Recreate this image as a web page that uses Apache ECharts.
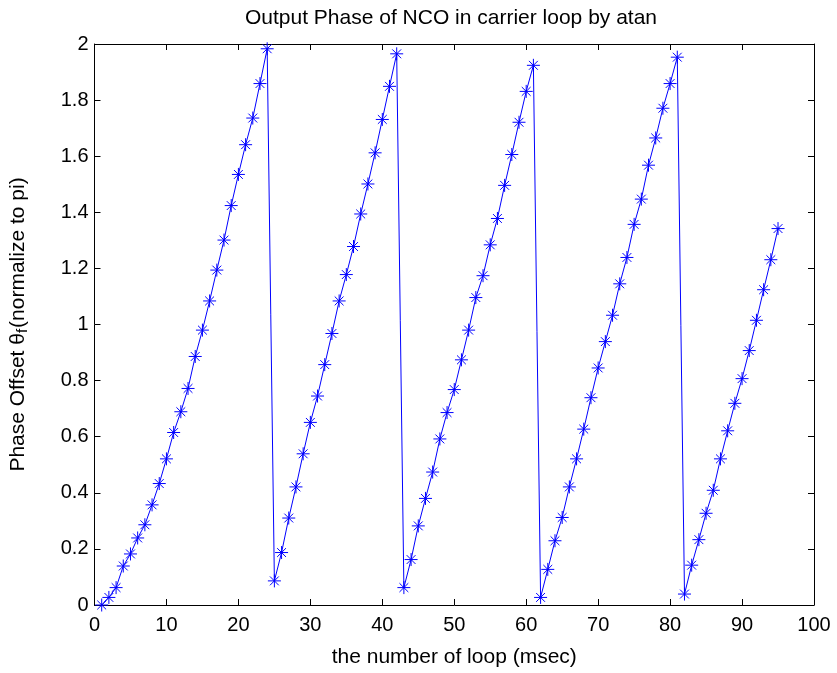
<!DOCTYPE html>
<html>
<head>
<meta charset="utf-8">
<script src="https://cdn.jsdelivr.net/npm/echarts@6/dist/echarts.min.js"></script>
<style>html,body{margin:0;padding:0;background:#fff}#c{width:837px;height:673px}</style>
</head>
<body>
<div id="c"></div>
<script>
const titleText = 'Output Phase of NCO in carrier loop by atan';
const xName = 'the number of loop (msec)';
const loopIndex = [1,2,3,4,5,6,7,8,9,10,11,12,13,14,15,16,17,18,19,20,21,22,23,24,25,26,27,28,29,30,31,32,33,34,35,36,37,38,39,40,41,42,43,44,45,46,47,48,49,50,51,52,53,54,55,56,57,58,59,60,61,62,63,64,65,66,67,68,69,70,71,72,73,74,75,76,77,78,79,80,81,82,83,84,85,86,87,88,89,90,91,92,93,94,95];
const phaseOffset = [
  0.000,0.027,0.062,0.139,0.182,0.239,0.286,0.357,0.433,0.521,
  0.615,0.689,0.772,0.886,0.980,1.084,1.194,1.301,1.424,1.535,
  1.641,1.736,1.859,1.983,
  0.086,0.187,0.310,0.421,0.539,0.651,0.745,0.857,0.968,1.084,
  1.178,1.278,1.394,1.501,1.612,1.731,1.849,1.965,
  0.062,0.162,0.282,0.380,0.474,0.592,0.686,0.768,0.874,0.980,
  1.096,1.174,1.284,1.378,1.496,1.606,1.721,1.831,1.924,
  0.027,0.127,0.229,0.312,0.421,0.521,0.627,0.739,0.845,0.939,
  1.033,1.145,1.239,1.357,1.447,1.568,1.665,1.771,1.859,1.953,
  0.039,0.142,0.233,0.327,0.409,0.521,0.621,0.719,0.807,0.907,
  1.015,1.124,1.231,1.342
];
const xTicks = [0,10,20,30,40,50,60,70,80,90,100];
const yTicks = [0,0.2,0.4,0.6,0.8,1,1.2,1.4,1.6,1.8,2];

const FONT = 'Liberation Sans';
const FS = 20;
const data = loopIndex.map((x, i) => [x, phaseOffset[i]]);
const chart = echarts.init(document.getElementById('c'), null, {renderer: 'canvas'});
const axisCommon = {
  axisLine: {show: true, onZero: false, lineStyle: {color: '#000', width: 1}},
  axisTick: {show: true, inside: true, length: 6, lineStyle: {color: '#000'}},
  splitLine: {show: false}
};
chart.setOption({
  animation: false,
  backgroundColor: '#fff',
  title: {
    text: titleText, left: 446, top: 3, textAlign: 'center',
    textStyle: {fontFamily: FONT, fontSize: 21, fontWeight: 'normal', color: '#000'}
  },
  grid: {left: 93, right: 23, top: 44, bottom: 62, containLabel: false},
  xAxis: [
    Object.assign({
      type: 'value', min: xTicks[0], max: xTicks[xTicks.length - 1], interval: xTicks[1] - xTicks[0],
      position: 'bottom',
      name: xName, nameLocation: 'middle', nameGap: 42,
      nameTextStyle: {fontFamily: FONT, fontSize: 21, color: '#000'},
      axisLabel: {fontFamily: FONT, fontSize: FS, color: '#000', margin: 10}
    }, axisCommon),
    Object.assign({
      type: 'value', min: xTicks[0], max: xTicks[xTicks.length - 1], interval: xTicks[1] - xTicks[0],
      position: 'top', axisLabel: {show: false}
    }, axisCommon)
  ],
  yAxis: [
    Object.assign({
      type: 'value', min: yTicks[0], max: yTicks[yTicks.length - 1], interval: 0.2,
      position: 'left',
      name: 'Phase Offset θ{sub|f}(normalize to pi)', nameLocation: 'middle', nameGap: 64, nameRotate: 90,
      nameTextStyle: {fontFamily: FONT, fontSize: 21, color: '#000',
        rich: {sub: {fontFamily: FONT, fontSize: 15, color: '#000', padding: [9, 1, 0, 0]}}},
      axisLabel: {fontFamily: FONT, fontSize: FS, color: '#000', margin: 6}
    }, axisCommon),
    Object.assign({
      type: 'value', min: yTicks[0], max: yTicks[yTicks.length - 1], interval: 0.2,
      position: 'right', axisLabel: {show: false}
    }, axisCommon)
  ],
  series: [{
    type: 'line',
    xAxisIndex: 0, yAxisIndex: 0,
    data: data,
    showAllSymbol: true,
    symbol: 'path://M0,5L10,5M5,0L5,10M1.6,1.6L8.4,8.4M1.6,8.4L8.4,1.6',
    symbolSize: 13,
    lineStyle: {color: '#0000ff', width: 1},
    itemStyle: {color: '#0000ff', borderColor: '#0000ff', borderWidth: 1},
    emphasis: {disabled: true}
  }]
});
</script>
</body>
</html>
